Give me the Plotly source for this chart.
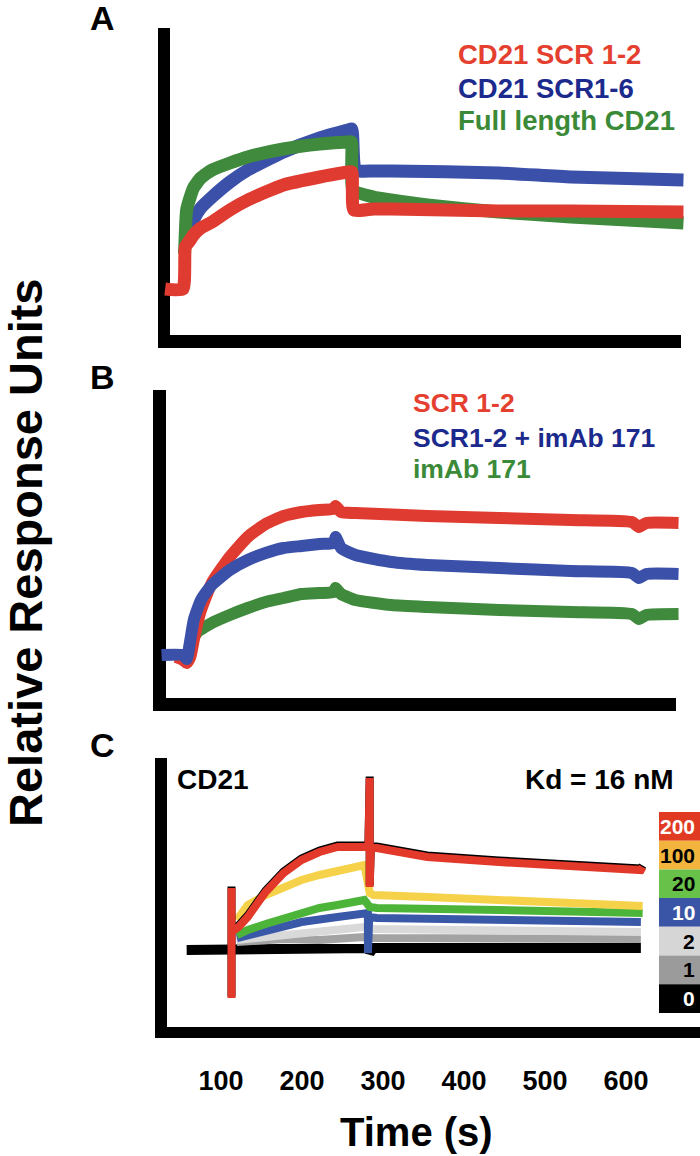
import plotly.graph_objects as go

W, H = 700, 1156

# ---------------- Panel A data (time s, relative RU) ----------------
a_labels = ["CD21 SCR 1-2", "CD21 SCR1-6", "Full length CD21"]
a_red_t = [31, 53, 56, 62, 66, 75, 89, 111, 133, 177, 222, 257, 261.5, 264, 288, 310, 443, 532, 671]
a_red_ru = [0, 0, 42, 49, 54, 61, 67, 79, 89, 104, 112, 117, 117, 79, 80, 80, 78, 78, 77]
a_blue_t = [57.6, 62, 66, 75, 89, 111, 133, 177, 222, 257, 261.5, 266, 288, 310, 443, 532, 671]
a_blue_ru = [46, 59, 69, 81, 92, 107, 119, 137, 151, 159, 160, 119, 118, 118, 116, 112, 109]
a_green_t = [55, 57.6, 62, 66, 75, 89, 111, 133, 177, 222, 257, 261, 263, 288, 310, 355, 443, 532, 671]
a_green_ru = [35, 79, 92, 101, 111, 119, 126, 132, 140, 145, 147, 147, 99, 92, 89, 84, 77, 72, 66]

# ---------------- Panel B data ----------------
b_labels = ["SCR 1-2", "SCR1-2 + imAb 171", "imAb 171"]
b_red_t = [44.3, 53.2, 57.6, 62.1, 66.4, 70.9, 75.3, 88.6, 110.8, 133, 155.1, 177.3, 199.4, 221.6, 239.3, 241.5, 248.2, 265.9, 354.6, 443.2, 531.9, 607.2, 616, 625, 664.9]
b_red_ru = [-2, -5, -8, -2, 15, 32, 45, 72, 98, 118, 131, 139, 143, 145, 146, 149, 143, 142, 139, 137, 135, 133, 128, 132, 132]
b_blue_t = [26.6, 53.2, 57.6, 62.1, 66.4, 75.3, 88.6, 110.8, 133, 155.1, 177.3, 199.4, 221.6, 239.3, 241.5, 248.2, 265.9, 310.3, 354.6, 443.2, 531.9, 607.2, 616, 625, 664.9]
b_blue_ru = [0, 0, -4, 15, 35, 55, 70, 85, 95, 102, 107, 109, 111, 112, 118, 107, 100, 93, 90, 87, 84, 82, 77, 81, 81]
b_green_t = [62.1, 66.4, 70.9, 88.6, 110.8, 133, 155.1, 177.3, 199.4, 221.6, 239.3, 241.5, 248.2, 265.9, 310.3, 354.6, 443.2, 531.9, 607.2, 616, 625, 664.9]
b_green_ru = [8, 18, 23, 32, 40, 47, 53, 57, 61, 62, 63, 67, 61, 55, 50, 48, 45, 43, 41, 36, 40, 41]

# ---------------- Panel C data (concentration series, nM) ----------------
c_conc = ["200", "100", "20", "10", "2", "1", "0"]
c_200_t = [113, 113, 113, 121.8, 133, 155.1, 177.3, 199.4, 221.6, 243.8, 265.9, 282, 283.6, 283.6, 285, 292.5, 332.4, 354.6, 443.2, 531.9, 618.4, 620.6]
c_200_ru = [-48, 62, 18, 23, 33, 58, 77, 90, 98, 103, 103, 103, 172, 63, 102, 102, 97, 93, 88, 84, 80, 83]
c_100_t = [119.6, 133, 155.1, 177.3, 199.4, 221.6, 243.8, 265.9, 277, 283.6, 288.1, 354.6, 443.2, 531.9, 620.6]
c_100_ru = [30, 45, 55, 63, 70, 75, 79, 83, 85, 57, 55, 53, 51, 47, 44]
c_20_t = [119.6, 133, 155.1, 177.3, 199.4, 221.6, 243.8, 265.9, 277, 283.6, 292.5, 443.2, 531.9, 620.6]
c_20_ru = [15, 20, 26, 32, 37, 42, 45, 48, 50, 43, 42, 40, 38, 37]
c_10_t = [119.6, 155.1, 199.4, 243.8, 274.8, 281.4, 281.4, 283, 292.5, 443.2, 531.9, 618.4]
c_10_ru = [12, 20, 28, 33, 35, 37, -3, 33, 32, 30, 29, 28]
c_2_t = [119.6, 177.3, 221.6, 265.9, 277, 288.1, 443.2, 618.4]
c_2_ru = [10, 15, 18, 22, 23, 21, 19, 18]
c_1_t = [119.6, 177.3, 221.6, 265.9, 277, 288.1, 443.2, 618.4]
c_1_ru = [8, 11, 10, 13, 13, 12, 11, 11]
c_0_t = [57.6, 113, 283, 283.5, 288, 618.4]
c_0_ru = [0, 1, 2, -3, 2, 2]

time_ticks = [100, 200, 300, 400, 500, 600]

# ---------------- styling ----------------
RED, BLUE, GREEN = "#e03b30", "#3b50a8", "#3f8a3c"
TXT_RED, TXT_BLUE, TXT_GREEN = "#e5402f", "#1b2a8c", "#3b8a38"
c_line_colors = ["#e2392a", "#f6d24a", "#4db43a", "#3a58a8", "#d9d9d9", "#a3a3a3", "#000000"]
c_box_colors = ["#e03a22", "#f2b43c", "#68c24a", "#3b55a6", "#d6d6d6", "#9b9b9b", "#000000"]
c_box_text = ["white", "black", "black", "white", "black", "black", "white"]
FONT = "Liberation Sans, Arial, Helvetica, sans-serif"


def X(px):
    return px / W


def Y(py):
    return 1 - py / H


X_RANGE = [0, 691.4]
X_DOM = [X(140), 1.0]

fig = go.Figure()

# Panel A traces (blue, green, red order)
for t, r, c, n in [(a_blue_t, a_blue_ru, BLUE, a_labels[1]),
                   (a_green_t, a_green_ru, GREEN, a_labels[2]),
                   (a_red_t, a_red_ru, RED, a_labels[0])]:
    fig.add_trace(go.Scatter(x=t, y=r, mode="lines", name=n, xaxis="x", yaxis="y",
                             line=dict(color=c, width=13, shape="spline", smoothing=0.5),
                             showlegend=False))

# Panel B traces
for t, r, c, n in [(b_green_t, b_green_ru, GREEN, b_labels[2]),
                   (b_red_t, b_red_ru, RED, b_labels[0]),
                   (b_blue_t, b_blue_ru, BLUE, b_labels[1])]:
    fig.add_trace(go.Scatter(x=t, y=r, mode="lines", name=n, xaxis="x2", yaxis="y2",
                             line=dict(color=c, width=12, shape="spline", smoothing=0.5),
                             showlegend=False))

# Panel C traces (draw 0 first, 200 last)
c_series = [(c_200_t, c_200_ru), (c_100_t, c_100_ru), (c_20_t, c_20_ru), (c_10_t, c_10_ru),
            (c_2_t, c_2_ru), (c_1_t, c_1_ru), (c_0_t, c_0_ru)]
for i in reversed(range(len(c_series))):
    t, r = c_series[i]
    if i == 0:
        # dark edge under the 200 nM curve
        fig.add_trace(go.Scatter(x=t, y=[v + 1.5 for v in r], mode="lines", xaxis="x3", yaxis="y3",
                                 line=dict(color="black", width=8), showlegend=False, hoverinfo="skip"))
    fig.add_trace(go.Scatter(x=t, y=r, mode="lines", name=c_conc[i] + " nM", xaxis="x3", yaxis="y3",
                             line=dict(color=c_line_colors[i], width=10 if i == 6 else 8),
                             showlegend=False))

hidden = dict(visible=False, showgrid=False, zeroline=False, fixedrange=True)
fig.update_layout(
    width=W, height=H, margin=dict(l=0, r=0, t=0, b=0),
    paper_bgcolor="white", plot_bgcolor="rgba(0,0,0,0)", showlegend=False,
    font=dict(family=FONT, color="black"),
    xaxis=dict(domain=X_DOM, range=X_RANGE, anchor="y", **hidden),
    xaxis2=dict(domain=X_DOM, range=X_RANGE, anchor="y2", **hidden),
    xaxis3=dict(domain=X_DOM, range=X_RANGE, anchor="y3", visible=True, showgrid=False,
                zeroline=False, showline=False, ticks="", tickvals=time_ticks, fixedrange=True,
                ticktext=[str(v) for v in time_ticks], ticklabelstandoff=35,
                tickfont=dict(family=FONT, size=27, color="black", weight="bold")),
    yaxis=dict(domain=[Y(335), Y(28)], range=[-46, 261], anchor="x", **hidden),
    yaxis2=dict(domain=[Y(698), Y(390)], range=[-43, 265], anchor="x2", **hidden),
    yaxis3=dict(domain=[Y(1027), Y(758)], range=[-77, 192], anchor="x3", **hidden),
)

shapes = []


def rect(x0, y0, x1, y1, color="black"):
    shapes.append(dict(type="rect", xref="paper", yref="paper", x0=X(x0), x1=X(x1),
                       y0=Y(y1), y1=Y(y0), fillcolor=color, line=dict(width=0), layer="below"))


# axis frames
rect(158, 28, 170, 348); rect(158, 335, 681, 348)
rect(153, 390, 166, 711); rect(153, 698, 676, 711)
rect(155, 758, 167, 1038); rect(155, 1027, 700, 1038)

# concentration key boxes in C
top, step = 812, 28.7
for i, col in enumerate(c_box_colors):
    rect(659, top + i * step, 700, top + (i + 1) * step, col)
fig.update_layout(shapes=shapes)

ann = []


def text(s, x, y, size, color="black", xanchor="left", angle=0):
    ann.append(dict(text=s, x=X(x), y=Y(y), xref="paper", yref="paper", showarrow=False,
                    xanchor=xanchor, yanchor="middle", textangle=angle,
                    font=dict(family=FONT, size=size, color=color, weight="bold")))


# panel letters
text("A", 102, 18, 34, xanchor="center")
text("B", 102, 377, 34, xanchor="center")
text("C", 102, 745, 34, xanchor="center")

# legends A
for s, c, y in zip(a_labels, [TXT_RED, TXT_BLUE, TXT_GREEN], [54, 88, 120]):
    text(s, 456, y, 27.5, c)
# legends B
for s, c, y in zip(b_labels, [TXT_RED, TXT_BLUE, TXT_GREEN], [403, 438, 469]):
    text(s, 411, y, 26.5, c)
# C texts
text("CD21", 175, 779, 28)
text("Kd = 16 nM", 676, 779, 28, xanchor="right")
for i, s in enumerate(c_conc):
    text(s, 697, top + (i + 0.5) * step, 21, c_box_text[i], xanchor="right")

# axis titles
text("Time (s)", 416, 1132, 40, xanchor="center")
text("Relative Response Units", 26, 553, 47, xanchor="center", angle=-90)

fig.update_layout(annotations=ann)
fig.write_html("out.html", config={"displayModeBar": False, "staticPlot": True},
               post_script="document.body.style.margin='0';document.body.style.overflow='hidden';")
